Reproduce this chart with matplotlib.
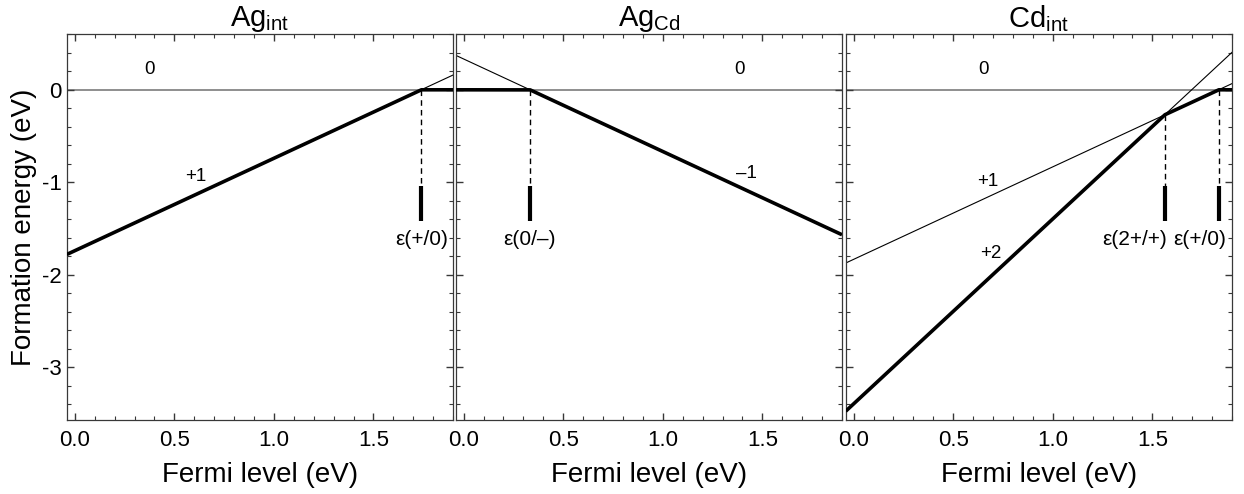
import numpy as np
import matplotlib
matplotlib.use("Agg")
import matplotlib.pyplot as plt
from matplotlib.ticker import MultipleLocator

plt.rcParams['font.family'] = ['Liberation Sans', 'DejaVu Sans']
plt.rcParams['mathtext.fontset'] = 'custom'
plt.rcParams['mathtext.rm'] = 'Liberation Sans'
plt.rcParams['mathtext.it'] = 'Liberation Sans:italic'

# ---- data ----
titles = [r"Ag$_{\rm int}$", r"Ag$_{\rm Cd}$", r"Cd$_{\rm int}$"]
charges_ag_int = [0, 1]
offsets_ag_int = [0.0, -1.74]
charges_ag_cd = [0, -1]
offsets_ag_cd = [0.0, 0.333]
charges_cd_int = [0, 1, 2]
offsets_cd_int = [0.0, -1.833, -3.395]

trans_ag_int = [1.74]
trans_ag_cd = [0.333]
trans_cd_int = [1.562, 1.833]
trans_labels_ag_int = ["ε(+/0)"]
trans_labels_ag_cd = ["ε(0/–)"]
trans_labels_cd_int = ["ε(2+/+)", "ε(+/0)"]
trans_label_x_ag_int = [1.74]
trans_label_x_ag_cd = [0.333]
trans_label_x_cd_int = [1.41, 1.738]

state_labels_ag_int = ["0", "+1"]
state_label_pos_ag_int = [(0.376, 0.215), (0.61, -0.94)]
state_labels_ag_cd = ["0", "–1"]
state_label_pos_ag_cd = [(1.387, 0.215), (1.42, -0.91)]
state_labels_cd_int = ["0", "+1", "+2"]
state_label_pos_cd_int = [(0.65, 0.215), (0.675, -0.99), (0.69, -1.77)]

panels = [
    (charges_ag_int, offsets_ag_int, trans_ag_int, trans_labels_ag_int, trans_label_x_ag_int,
     state_labels_ag_int, state_label_pos_ag_int),
    (charges_ag_cd, offsets_ag_cd, trans_ag_cd, trans_labels_ag_cd, trans_label_x_ag_cd,
     state_labels_ag_cd, state_label_pos_ag_cd),
    (charges_cd_int, offsets_cd_int, trans_cd_int, trans_labels_cd_int, trans_label_x_cd_int,
     state_labels_cd_int, state_label_pos_cd_int),
]

xmin, xmax = -0.04, 1.9
ymin, ymax = -3.57, 0.6

W, H = 1244, 494
fig = plt.figure(figsize=(W / 100, H / 100), dpi=100)
lefts = [66.8, 455.7, 845.7]
width = 386.3
top, bottom = 34.3, 420

spine_col = '#383838'
for i, (qs, offs, trans, tlabels, tlx, slabels, slpos) in enumerate(panels):
    ax = fig.add_axes([lefts[i] / W, 1 - bottom / H, width / W, (bottom - top) / H])
    ax.set_xlim(xmin, xmax)
    ax.set_ylim(ymin, ymax)
    ax.axhline(0, color='#707070', lw=1.1, zorder=1)
    xs = np.linspace(xmin, xmax, 4001)
    lines = []
    for q, o in zip(qs, offs):
        y = o + q * xs
        lines.append(y)
        if q != 0:
            ax.plot(xs, y, color='black', lw=0.8, zorder=2)
    env = np.min(np.vstack(lines), axis=0)
    ax.plot(xs, env, color='black', lw=2.6, zorder=3, solid_capstyle='butt')
    for t, lab, lx in zip(trans, tlabels, tlx):
        e = np.interp(t, xs, env)
        ax.plot([t, t], [e, -1.04], color='black', lw=1.0, ls=(0, (4, 3)), zorder=2)
        ax.plot([t, t], [-1.04, -1.42], color='black', lw=3.0, zorder=3, solid_capstyle='butt')
        ax.text(lx, -1.62, lab, ha='center', va='center', fontsize=15)
    for lab, (lx, ly) in zip(slabels, slpos):
        ax.text(lx, ly, lab, ha='center', va='center', fontsize=13.5)

    ax.set_title(titles[i], fontsize=21, pad=3)
    ax.xaxis.set_major_locator(MultipleLocator(0.5))
    ax.xaxis.set_minor_locator(MultipleLocator(0.1))
    ax.yaxis.set_major_locator(MultipleLocator(1))
    ax.yaxis.set_minor_locator(MultipleLocator(0.2))
    ax.xaxis.set_major_formatter(matplotlib.ticker.FormatStrFormatter('%.1f'))
    ax.yaxis.set_major_formatter(matplotlib.ticker.FuncFormatter(lambda v, p: '%d' % round(v)))
    ax.tick_params(which='both', direction='in', top=True, right=True, color=spine_col,
                   labelsize=16)
    ax.tick_params(which='major', length=5, width=1)
    ax.tick_params(which='minor', length=3, width=0.8)
    ax.tick_params(axis='x', pad=7)
    for s in ax.spines.values():
        s.set_color(spine_col)
        s.set_linewidth(0.9)
    if i > 0:
        ax.tick_params(axis='y', labelleft=False)
    else:
        ax.set_ylabel("Formation energy (eV)", fontsize=20, labelpad=4)
    ax.set_xlabel("Fermi level (eV)", fontsize=20, labelpad=8)

fig.savefig("out.png", dpi=100)
